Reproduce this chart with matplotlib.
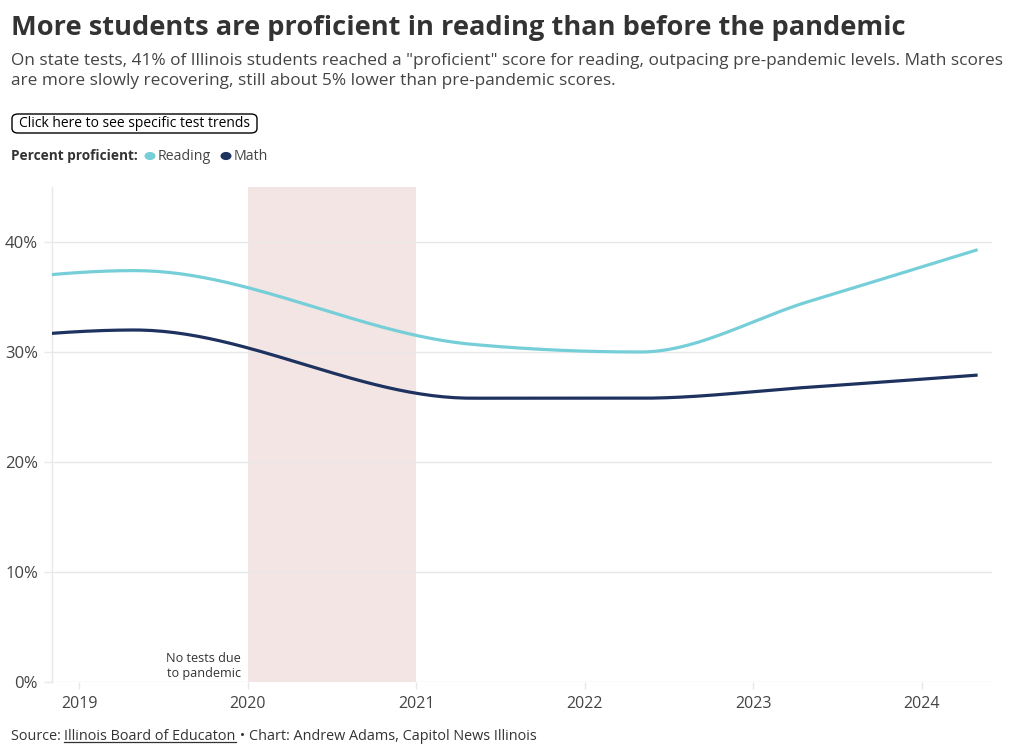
import numpy as np
import matplotlib
matplotlib.use("Agg")
import matplotlib.pyplot as plt
from matplotlib.patches import FancyBboxPatch, Circle

# ---- data ----
test_dates = [2018.33, 2019.33, 2021.33, 2022.33, 2023.33, 2024.33]
reading = [36.2, 37.4, 30.7, 30.0, 34.6, 39.3]
math_scores = [31.0, 32.0, 25.8, 25.8, 26.8, 27.9]
year_ticks = [2019, 2020, 2021, 2022, 2023, 2024]
pct_ticks = [0, 10, 20, 30, 40]
pandemic_span = (2020, 2021)

FONT = "Open Sans"
plt.rcParams['font.family'] = [FONT, 'DejaVu Sans']
W, H = 1020, 755
TXT = "#333333"


def monotone_x(xs, ys, n=60):
    """d3 curveMonotoneX rendering of the given points."""
    xs = np.asarray(xs, float); ys = np.asarray(ys, float)
    k = len(xs)
    h = np.diff(xs); s = np.diff(ys) / h
    m = np.zeros(k)
    for i in range(1, k - 1):
        p = (s[i-1] * h[i] + s[i] * h[i-1]) / (h[i-1] + h[i])
        m[i] = (np.sign(s[i-1]) + np.sign(s[i])) * min(abs(s[i-1]), abs(s[i]), 0.5 * abs(p))
    m[0] = (3 * s[0] - m[1]) / 2
    m[-1] = (3 * s[-1] - m[-2]) / 2
    px, py = [], []
    for i in range(k - 1):
        t = np.linspace(0, 1, n)
        h00 = 2*t**3 - 3*t**2 + 1; h10 = t**3 - 2*t**2 + t
        h01 = -2*t**3 + 3*t**2; h11 = t**3 - t**2
        px.append(xs[i] + t * h[i])
        py.append(h00*ys[i] + h10*h[i]*m[i] + h01*ys[i+1] + h11*h[i]*m[i+1])
    return np.concatenate(px), np.concatenate(py)


fig = plt.figure(figsize=(W/100, H/100), dpi=100)
fig.patch.set_facecolor("white")

def ftxt(x, y, s, **kw):
    return fig.text(x / W, 1 - y / H, s, **kw)

# title / subtitle
ftxt(11, 28, "More students are proficient in reading than before the pandemic",
     fontsize=19.6, fontweight="bold", color=TXT, va="center", ha="left")
ftxt(11, 61, 'On state tests, 41% of Illinois students reached a "proficient" score for reading, outpacing pre-pandemic levels. Math scores',
     fontsize=12.4, color="#444444", va="center", ha="left")
ftxt(11, 81, "are more slowly recovering, still about 5% lower than pre-pandemic scores.",
     fontsize=12.4, color="#444444", va="center", ha="left")

# button
btn = FancyBboxPatch((12 / W, 1 - 133 / H), (257 - 12) / W, (133 - 114) / H,
                     boxstyle="round,pad=0,rounding_size=0.006",
                     transform=fig.transFigure, facecolor="white",
                     edgecolor="black", linewidth=1.0)
fig.patches.append(btn)
ftxt(134.5, 123.5, "Click here to see specific test trends", fontsize=10.0,
     color="black", va="center", ha="center")

# legend
ftxt(11, 156, "Percent proficient:", fontsize=9.8, fontweight="bold", color=TXT,
     va="center", ha="left")
READ_C = "#76cfd8"
MATH_C = "#1e3260"
for cx, col, lab, lx in [(150, READ_C, "Reading", 158), (226, MATH_C, "Math", 234)]:
    fig.patches.append(Circle((cx / W, 1 - 156 / H), 5.5 / W, transform=fig.transFigure,
                              facecolor=col, edgecolor="none"))
    ftxt(lx, 157, lab, fontsize=10.2, color="#444444", va="center", ha="left")

# axes
left, right, top, bottom = 52, 992, 187, 682
ax = fig.add_axes([left / W, 1 - bottom / H, (right - left) / W, (bottom - top) / H])
x0 = 2019 + (left - 79) / 168.6
x1 = 2019 + (right - 79) / 168.6
ax.set_xlim(x0, x1)
ax.set_ylim(0, 45)

ax.axvspan(*pandemic_span, color="#f3e5e4", zorder=0, lw=0)
for v in pct_ticks:
    ax.axhline(v, color="#e8e8e8", lw=1, zorder=1)

rx, ry = monotone_x(test_dates, reading)
mx, my = monotone_x(test_dates, math_scores)
ax.plot(rx, ry, color=READ_C, lw=2.3, zorder=3, solid_capstyle="butt", clip_on=True)
ax.plot(mx, my, color=MATH_C, lw=2.3, zorder=3, solid_capstyle="butt", clip_on=True)

ax.set_yticks(pct_ticks)
ax.set_yticklabels([f"{v}%" for v in pct_ticks])
ax.set_xticks(year_ticks)
ax.set_xticklabels([str(y) for y in year_ticks])
ax.tick_params(axis="y", length=6, width=1, color="#e8e8e8", labelsize=12,
               labelcolor="#444444", pad=4)
ax.tick_params(axis="x", length=5, width=1, color="#e8e8e8", labelsize=11.5,
               labelcolor="#444444", pad=5)
for sp in ["top", "right", "bottom"]:
    ax.spines[sp].set_visible(False)
ax.spines["left"].set_color("#e8e8e8")
ax.spines["left"].set_linewidth(1)

ax.text(2019.96, 0.2, "No tests due\nto pandemic", ha="right", va="bottom",
        fontsize=9.1, color=TXT, linespacing=1.2)

# source line with underlined link
fig.canvas.draw()
r = fig.canvas.get_renderer()
sx, sy = 11, 736
FS = 10.4
t1 = ftxt(sx, sy, "Source: ", fontsize=FS, color=TXT, va="center", ha="left")
bb = t1.get_window_extent(r)
x_link = bb.x1
t2 = fig.text(x_link / W, 1 - sy / H, "Illinois Board of Educaton", fontsize=FS,
              color=TXT, va="center", ha="left")
bb2 = t2.get_window_extent(r)
fig.add_artist(plt.Line2D([bb2.x0 / W, bb2.x1 / W], [(H - 742) / H, (H - 742) / H],
                          transform=fig.transFigure, color=TXT, lw=0.9))
fig.text(bb2.x1 / W, 1 - sy / H, " \u2022 Chart: Andrew Adams, Capitol News Illinois",
         fontsize=FS, color=TXT, va="center", ha="left")

fig.savefig("out.png", dpi=100)
